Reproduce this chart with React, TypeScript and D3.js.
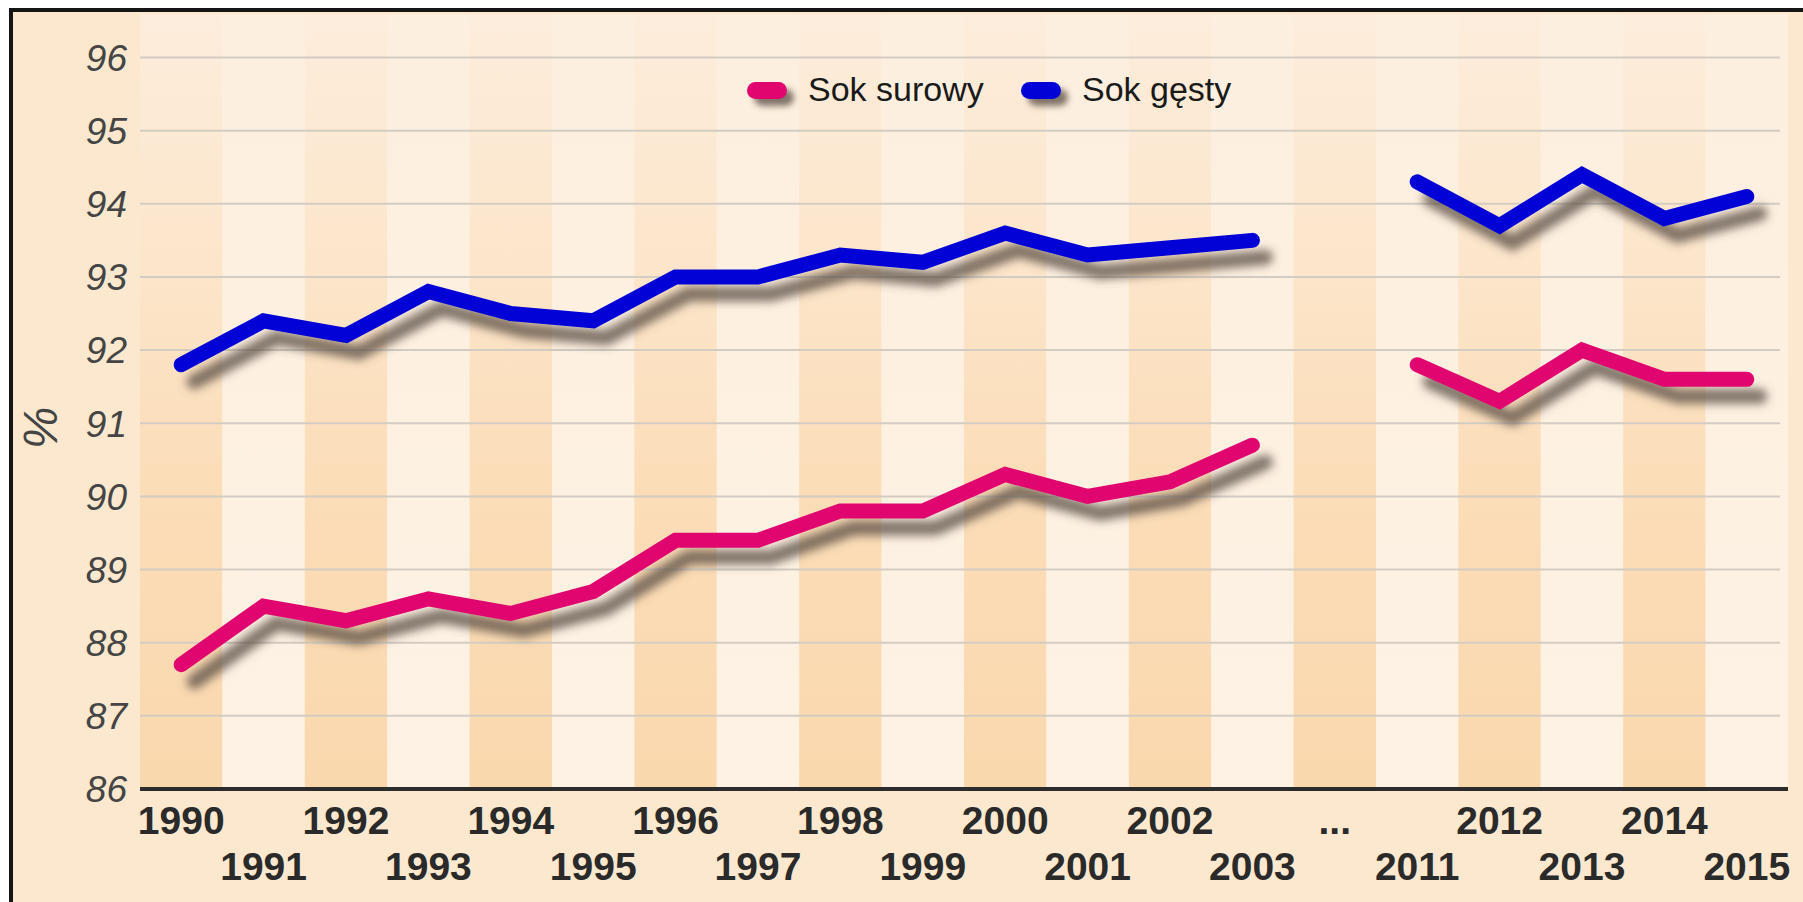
import React from 'react';
import * as d3 from 'd3';

const years = ['1990','1991','1992','1993','1994','1995','1996','1997','1998','1999','2000','2001','2002','2003','...','2011','2012','2013','2014','2015'];
const sokSurowy: (number | null)[] = [87.7, 88.5, 88.3, 88.6, 88.4, 88.7, 89.4, 89.4, 89.8, 89.8, 90.3, 90.0, 90.2, 90.7, null, 91.8, 91.3, 92.0, 91.6, 91.6];
const sokGesty: (number | null)[] = [91.8, 92.4, 92.2, 92.8, 92.5, 92.4, 93.0, 93.0, 93.3, 93.2, 93.6, 93.3, 93.4, 93.5, null, 94.3, 93.7, 94.4, 93.8, 94.1];
const yTicks = [86, 87, 88, 89, 90, 91, 92, 93, 94, 95, 96];
const seriesNames = ['Sok surowy', 'Sok gęsty'];
const seriesColors = ['#e0056f', '#0202d6'];

const W = 1803, H = 902;
const left = 140, right = 1788, top = 57.5, bottom = 789;

export default function App() {
  const x = d3.scaleBand<string>().domain(years).range([left, right]).padding(0);
  const y = d3.scaleLinear().domain([86, 96]).range([bottom, top]);
  const line = d3.line<number | null>()
    .defined((d) => d !== null)
    .x((_, i) => (x(years[i]) as number) + x.bandwidth() / 2)
    .y((d) => y(d as number));
  const series = [sokSurowy, sokGesty];
  const font = '"Liberation Sans", Arial, sans-serif';

  return (
    <svg width={W} height={H} style={{ position: 'absolute', left: 0, top: 0, display: 'block' }}>
      <defs>
        <filter id="shadow" x="-10%" y="-20%" width="130%" height="160%">
          <feGaussianBlur stdDeviation="5" />
        </filter>
        <filter id="shadowS" x="-50%" y="-80%" width="200%" height="260%">
          <feGaussianBlur stdDeviation="3" />
        </filter>
        <linearGradient id="bandDark" x1="0" y1="0" x2="0" y2="1">
          <stop offset="0" stopColor="#fdeddc" />
          <stop offset="0.3" stopColor="#fce6cc" />
          <stop offset="0.6" stopColor="#fbddb8" />
          <stop offset="1" stopColor="#fad8ae" />
        </linearGradient>
        <linearGradient id="bandLight" x1="0" y1="0" x2="0" y2="1">
          <stop offset="0" stopColor="#fdefdf" />
          <stop offset="1" stopColor="#fdf2e4" />
        </linearGradient>
      </defs>
      <rect x={0} y={0} width={W} height={H} fill="#ffffff" />
      <rect x={11} y={10} width={W} height={H} fill="#fce8cf" stroke="#151515" strokeWidth={4} />
      <rect x={left} y={14} width={right - left} height={bottom - 14} fill="#fdeedd" />
      {years.map((yr, i) => (
        <rect key={yr} x={x(yr)} y={14} width={x.bandwidth()} height={bottom - 14}
          fill={i % 2 === 0 ? 'url(#bandDark)' : 'url(#bandLight)'} />
      ))}
      {yTicks.map((t) => (
        <g key={t}>
          {t !== 86 && <line x1={left} x2={right - 8} y1={y(t)} y2={y(t)} stroke="#d3ccc3" strokeWidth={2} />}
          <text x={127} y={y(t)} dy="0.36em" textAnchor="end" fontFamily={font} fontStyle="italic"
            fontSize={37} fill="#454545">{t}</text>
        </g>
      ))}
      <text transform={`translate(57,428) rotate(-90)`} textAnchor="middle" fontFamily={font}
        fontStyle="italic" fontSize={48} fill="#454545">%</text>
      <line x1={left} x2={right} y1={bottom} y2={bottom} stroke="#2c2c2c" strokeWidth={4} />
      {years.map((yr, i) => (
        <text key={yr} x={(x(yr) as number) + x.bandwidth() / 2} y={i % 2 === 0 ? 834 : 880}
          textAnchor="middle" fontFamily={font} fontWeight="bold" fontSize={39} fill="#2a2a2a">{yr}</text>
      ))}
      {series.map((s, k) => (
        <path key={'sh' + k} d={line(s) || ''} transform="translate(13,17)" fill="none"
          stroke="rgba(85,75,65,0.75)" strokeWidth={15} strokeLinecap="round" strokeLinejoin="miter"
          filter="url(#shadow)" />
      ))}
      {series.map((s, k) => (
        <path key={'l' + k} d={line(s) || ''} fill="none" stroke={seriesColors[k]} strokeWidth={15}
          strokeLinecap="round" strokeLinejoin="miter" />
      ))}
      {seriesNames.map((n, k) => {
        const sx = k === 0 ? 747 : 1021;
        return (
          <g key={n}>
            <rect x={sx + 7} y={89} width={40} height={17} rx={8.5} fill="rgba(85,75,65,0.75)" filter="url(#shadowS)" />
            <rect x={sx} y={82} width={40} height={17} rx={8.5} fill={seriesColors[k]} />
            <text x={sx + 61} y={101} fontFamily={font} fontSize={34} fill="#1a1a1a">{n}</text>
          </g>
        );
      })}
    </svg>
  );
}
